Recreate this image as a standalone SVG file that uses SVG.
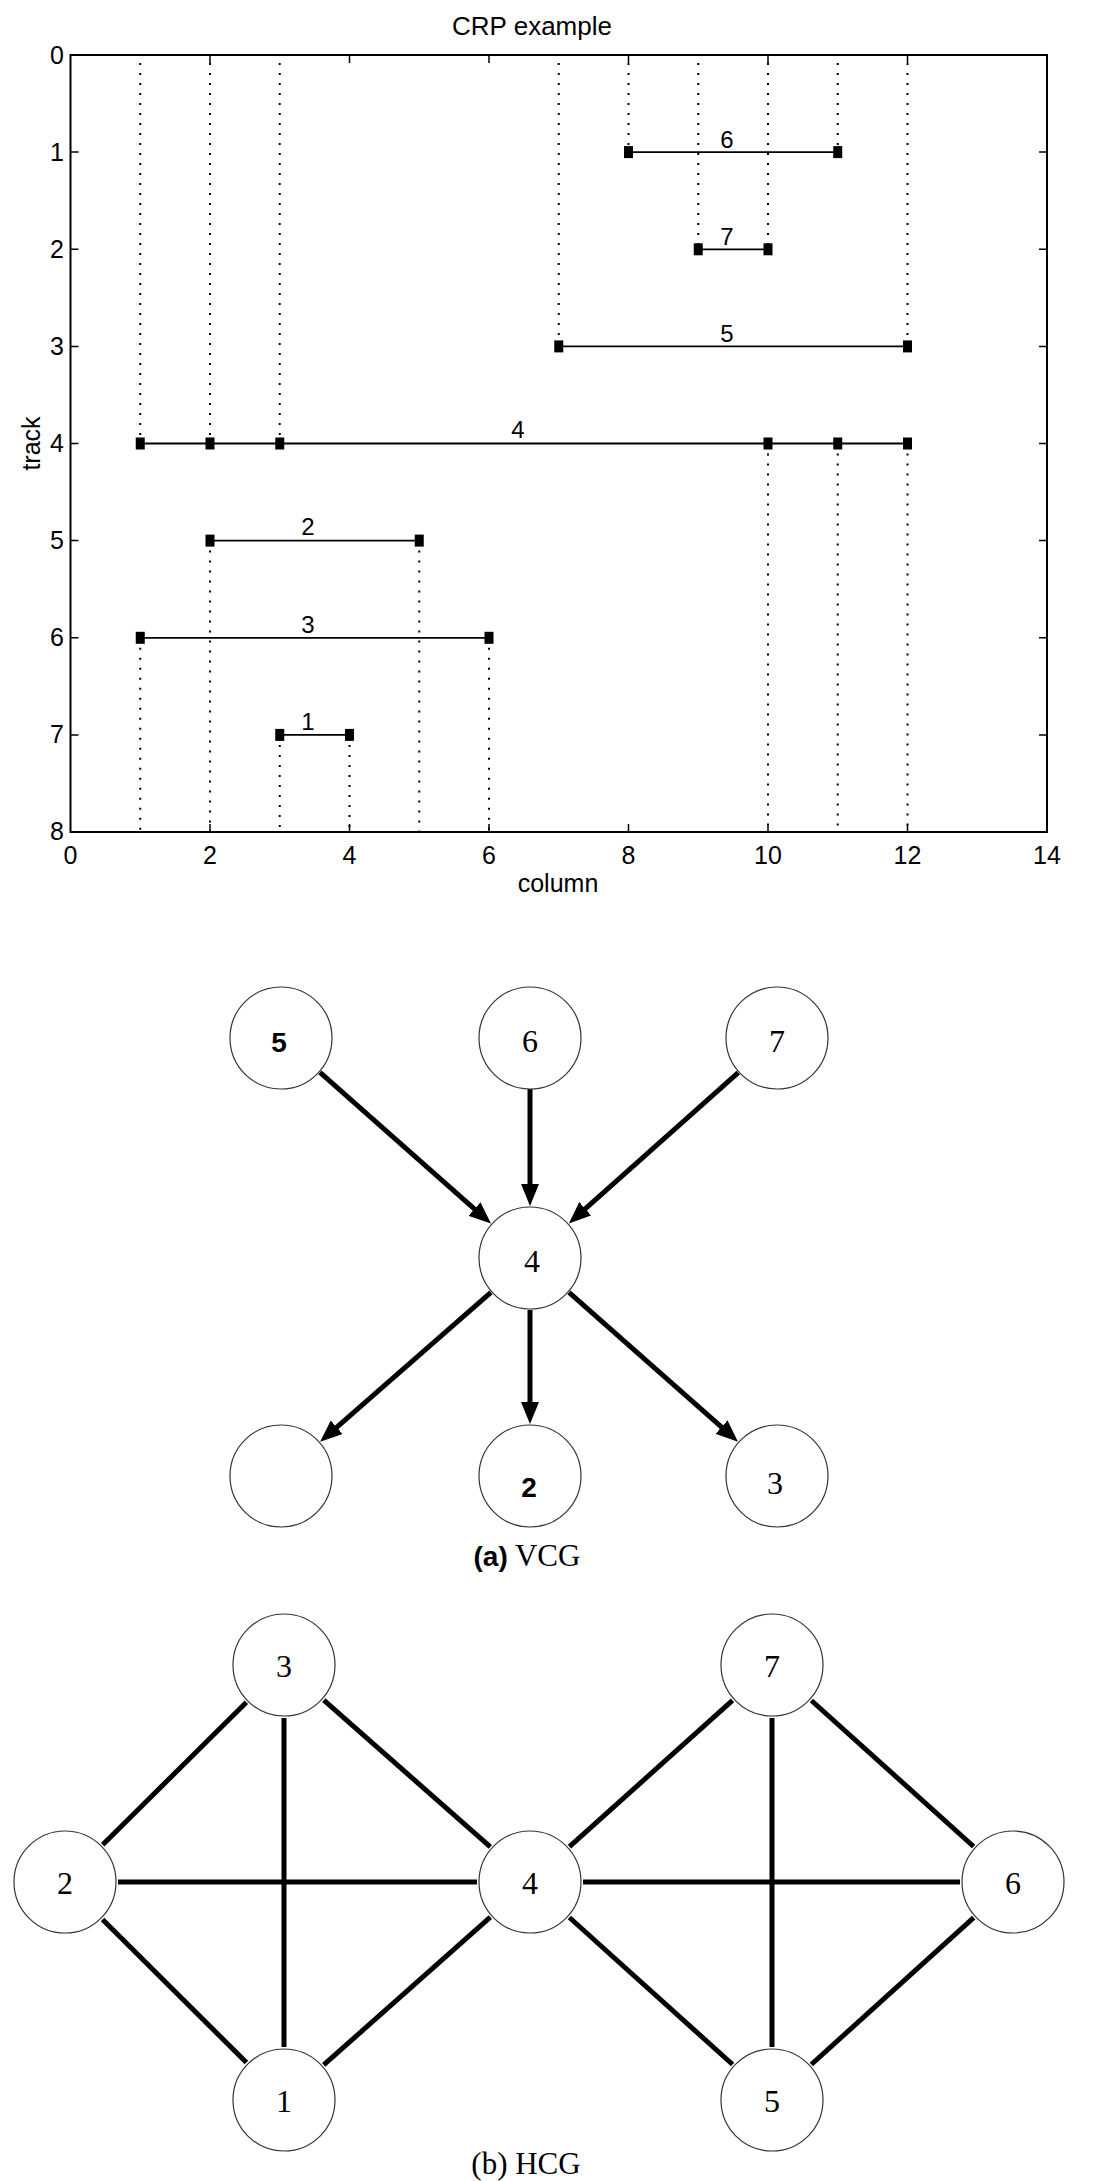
<svg xmlns="http://www.w3.org/2000/svg" width="1100" height="2181" viewBox="0 0 1100 2181">
<style>
.bg{fill:#fff}
.frame{fill:none;stroke:#000;stroke-width:2}
.tick{stroke:#000;stroke-width:1.5}
.tl{font-family:"Liberation Sans",Arial,sans-serif;font-size:25px;fill:#000}
.title{font-family:"Liberation Sans",Arial,sans-serif;font-size:26px;fill:#000}
.net{stroke:#000;stroke-width:1.8;fill:none}
.dot{stroke:#000;stroke-width:2;stroke-dasharray:2 8;fill:none}
.pin{fill:#000}
.nl{font-family:"Liberation Sans",Arial,sans-serif;font-size:24px;fill:#000;text-anchor:middle}
.node circle{fill:#fff;stroke:#333;stroke-width:1.2}
.lab{font-family:"Liberation Serif","Times New Roman",serif;font-size:32px;fill:#000;text-anchor:middle}
.labs{font-family:"Liberation Sans",Arial,sans-serif;font-weight:bold;font-size:28px;fill:#000;text-anchor:middle}
.arr{stroke:#000;stroke-width:5;fill:none}
.edge{stroke:#000;stroke-width:5;fill:none}
.cap{font-family:"Liberation Serif","Times New Roman",serif;font-size:31px;fill:#000;text-anchor:middle}
</style>
<defs>
<marker id="ah" markerUnits="userSpaceOnUse" markerWidth="22" markerHeight="18" refX="2" refY="9" orient="auto">
<path d="M0,0 L22,9 L0,18 z" fill="#000"/>
</marker>
</defs>
<rect class="bg" x="0" y="0" width="1100" height="2181"/>

<g id="chart">
<text class="title" x="532" y="35" text-anchor="middle">CRP example</text>
<rect class="frame" x="70.5" y="55" width="976.5" height="777"/>
<g id="xticks">
<path class="tick" d="M210,55v8M349.5,55v8M489,55v8M628.5,55v8M768,55v8M907.5,55v8M210,832v-8M349.5,832v-8M489,832v-8M628.5,832v-8M768,832v-8M907.5,832v-8"/>
</g>
<g id="yticks">
<path class="tick" d="M70.5,152.1h8M70.5,249.3h8M70.5,346.4h8M70.5,443.5h8M70.5,540.6h8M70.5,637.8h8M70.5,734.9h8M1047,152.1h-8M1047,249.3h-8M1047,346.4h-8M1047,443.5h-8M1047,540.6h-8M1047,637.8h-8M1047,734.9h-8"/>
</g>
<g class="tl" text-anchor="end">
<text x="64" y="64">0</text>
<text x="64" y="161">1</text>
<text x="64" y="258">2</text>
<text x="64" y="355">3</text>
<text x="64" y="452">4</text>
<text x="64" y="549">5</text>
<text x="64" y="646">6</text>
<text x="64" y="743">7</text>
<text x="64" y="840">8</text>
</g>
<g class="tl" text-anchor="middle">
<text x="70.5" y="864">0</text>
<text x="210" y="864">2</text>
<text x="349.5" y="864">4</text>
<text x="489" y="864">6</text>
<text x="628.5" y="864">8</text>
<text x="768" y="864">10</text>
<text x="907.5" y="864">12</text>
<text x="1047" y="864">14</text>
</g>
<text class="tl" x="558" y="892" text-anchor="middle">column</text>
<text class="tl" transform="translate(40,443.5) rotate(-90)" text-anchor="middle">track</text>

<g id="dotted">
<path class="dot" d="M140.25,63V443.5M140.25,637.8V832"/>
<path class="dot" d="M210,63V443.5M210,540.6V832"/>
<path class="dot" d="M279.75,63V443.5M279.75,734.9V832"/>
<path class="dot" d="M349.5,734.9V832"/>
<path class="dot" d="M419.25,540.6V832"/>
<path class="dot" d="M489,637.8V832"/>
<path class="dot" d="M558.75,63V346.4"/>
<path class="dot" d="M628.5,63V152.1"/>
<path class="dot" d="M698.25,63V249.3"/>
<path class="dot" d="M768,63V249.3M768,443.5V832"/>
<path class="dot" d="M837.75,63V152.1M837.75,443.5V832"/>
<path class="dot" d="M907.5,63V346.4M907.5,443.5V832"/>
</g>

<g id="net6">
<path class="net" d="M628.5,152.1H837.75"/>
<rect class="pin" x="624" y="146.1" width="9" height="12"/>
<rect class="pin" x="833.25" y="146.1" width="9" height="12"/>
<text class="nl" x="727" y="148">6</text>
</g>
<g id="net7">
<path class="net" d="M698.25,249.3H768"/>
<rect class="pin" x="693.75" y="243.3" width="9" height="12"/>
<rect class="pin" x="763.5" y="243.3" width="9" height="12"/>
<text class="nl" x="727" y="245">7</text>
</g>
<g id="net5">
<path class="net" d="M558.75,346.4H907.5"/>
<rect class="pin" x="554.25" y="340.4" width="9" height="12"/>
<rect class="pin" x="903" y="340.4" width="9" height="12"/>
<text class="nl" x="727" y="342">5</text>
</g>
<g id="net4">
<path class="net" d="M140.25,443.5H907.5"/>
<rect class="pin" x="135.75" y="437.5" width="9" height="12"/>
<rect class="pin" x="205.5" y="437.5" width="9" height="12"/>
<rect class="pin" x="275.25" y="437.5" width="9" height="12"/>
<rect class="pin" x="763.5" y="437.5" width="9" height="12"/>
<rect class="pin" x="833.25" y="437.5" width="9" height="12"/>
<rect class="pin" x="903" y="437.5" width="9" height="12"/>
<text class="nl" x="518" y="438">4</text>
</g>
<g id="net2">
<path class="net" d="M210,540.6H419.25"/>
<rect class="pin" x="205.5" y="534.6" width="9" height="12"/>
<rect class="pin" x="414.75" y="534.6" width="9" height="12"/>
<text class="nl" x="308" y="535">2</text>
</g>
<g id="net3">
<path class="net" d="M140.25,637.8H489"/>
<rect class="pin" x="135.75" y="631.8" width="9" height="12"/>
<rect class="pin" x="484.5" y="631.8" width="9" height="12"/>
<text class="nl" x="308" y="633">3</text>
</g>
<g id="net1">
<path class="net" d="M279.75,734.9H349.5"/>
<rect class="pin" x="275.25" y="728.9" width="9" height="12"/>
<rect class="pin" x="345" y="728.9" width="9" height="12"/>
<text class="nl" x="308" y="730">1</text>
</g>
</g>

<g id="vcg-connectors">
<line class="arr" x1="320" y1="1072.4" x2="476" y2="1210.3" marker-end="url(#ah)"/>
<line class="arr" x1="530" y1="1089" x2="530" y2="1186" marker-end="url(#ah)"/>
<line class="arr" x1="738.2" y1="1072.6" x2="583.8" y2="1210.1" marker-end="url(#ah)"/>
<line class="arr" x1="490.9" y1="1292.3" x2="335.2" y2="1428.6" marker-end="url(#ah)"/>
<line class="arr" x1="530" y1="1310" x2="530" y2="1404" marker-end="url(#ah)"/>
<line class="arr" x1="569" y1="1292.4" x2="723" y2="1428.4" marker-end="url(#ah)"/>
</g>
<g id="vcg-n5" class="node"><circle cx="281" cy="1038" r="51"/><text class="labs" x="279" y="1052">5</text></g>
<g id="vcg-n6" class="node"><circle cx="530" cy="1038" r="51"/><text class="lab" x="530" y="1052">6</text></g>
<g id="vcg-n7" class="node"><circle cx="777" cy="1038" r="51"/><text class="lab" x="777" y="1052">7</text></g>
<g id="vcg-n4" class="node"><circle cx="530" cy="1258" r="51"/><text class="lab" x="532" y="1272">4</text></g>
<g id="vcg-n1" class="node"><circle cx="281" cy="1476" r="51"/></g>
<g id="vcg-n2" class="node"><circle cx="530" cy="1476" r="51"/><text class="labs" x="529" y="1497">2</text></g>
<g id="vcg-n3" class="node"><circle cx="777" cy="1476" r="51"/><text class="lab" x="775" y="1494">3</text></g>
<text class="cap" x="527" y="1566"><tspan font-family="'Liberation Sans',Arial,sans-serif" font-weight="bold" font-size="28">(a)</tspan> VCG</text>

<g id="hcg-connectors">
<line class="edge" x1="246.4" y1="1702.3" x2="102.7" y2="1844.7"/>
<line class="edge" x1="323.8" y1="1700.1" x2="490.3" y2="1846.9"/>
<line class="edge" x1="284" y1="1718" x2="284" y2="2047"/>
<line class="edge" x1="118" y1="1882" x2="477" y2="1882"/>
<line class="edge" x1="102.6" y1="1919.4" x2="246.4" y2="2062.6"/>
<line class="edge" x1="490.3" y1="1917.2" x2="323.7" y2="2064.9"/>
<line class="edge" x1="569.5" y1="1846.6" x2="732.5" y2="1700.4"/>
<line class="edge" x1="583" y1="1882" x2="960" y2="1882"/>
<line class="edge" x1="569.4" y1="1917.5" x2="732.6" y2="2064.5"/>
<line class="edge" x1="811.4" y1="1700.5" x2="973.6" y2="1846.5"/>
<line class="edge" x1="772" y1="1718" x2="772" y2="2047"/>
<line class="edge" x1="973.7" y1="1917.6" x2="811.3" y2="2064.5"/>
</g>
<g id="hcg-n3" class="node"><circle cx="284" cy="1665" r="51"/><text class="lab" x="284" y="1677">3</text></g>
<g id="hcg-n7" class="node"><circle cx="772" cy="1665" r="51"/><text class="lab" x="772" y="1677">7</text></g>
<g id="hcg-n2" class="node"><circle cx="65" cy="1882" r="51"/><text class="lab" x="65" y="1894">2</text></g>
<g id="hcg-n4" class="node"><circle cx="530" cy="1882" r="51"/><text class="lab" x="530" y="1894">4</text></g>
<g id="hcg-n6" class="node"><circle cx="1013" cy="1882" r="51"/><text class="lab" x="1013" y="1894">6</text></g>
<g id="hcg-n1" class="node"><circle cx="284" cy="2100" r="51"/><text class="lab" x="284" y="2112">1</text></g>
<g id="hcg-n5" class="node"><circle cx="772" cy="2100" r="51"/><text class="lab" x="772" y="2112">5</text></g>
<text class="cap" x="526" y="2174">(b) HCG</text>
</svg>
